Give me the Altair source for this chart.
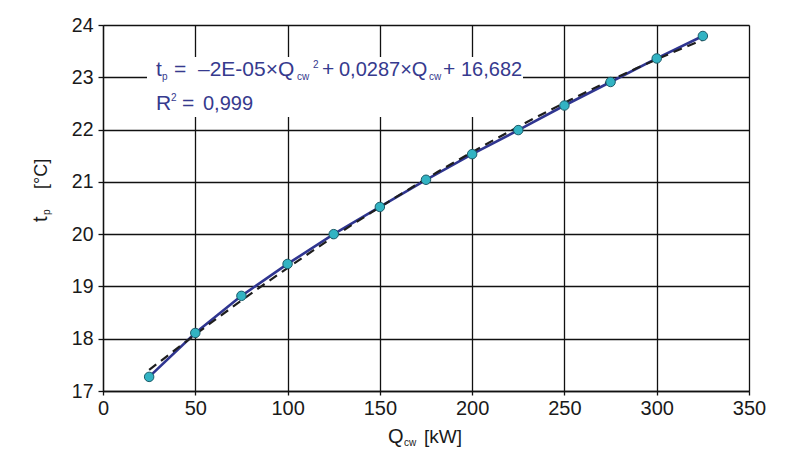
import altair as alt
import pandas as pd

# ---- data ----
q_cw = [25, 50, 75, 100, 125, 150, 175, 200, 225, 250, 275, 300, 325]
t_p = [17.27, 18.11, 18.82, 19.43, 20.00, 20.52, 21.04, 21.53, 21.99, 22.46, 22.91, 23.36, 23.79]
x_ticks = [0, 50, 100, 150, 200, 250, 300, 350]
y_ticks = [17, 18, 19, 20, 21, 22, 23, 24]

# ---- layout ----
L, T, W, H = 103, 25, 646, 366
R = 805 - L - W
B = 453 - T - H

NAVY = "#363a8e"
LINE = "#2f3590"
DOT = "#32b3c3"
DOT_STROKE = "#1c5b68"
FONT = "Liberation Sans"
INK = "#1a1a1a"

df = pd.DataFrame({"Q": q_cw, "t": t_p})
base = alt.Chart(df)

x_enc = alt.X(
    "Q:Q",
    scale=alt.Scale(domain=[0, 350], nice=False, zero=False),
    axis=alt.Axis(values=x_ticks, title=None, grid=True, format="d",
                  labelFont=FONT, labelFontSize=20, labelPadding=3, tickSize=4,
                  labelColor=INK, labelFlush=False, labelBaseline="top",
                  gridColor="#111", gridWidth=1.3, gridOpacity=1,
                  domainColor="#111", domainWidth=1.3, tickColor="#111", tickWidth=1.3),
)
y_enc = alt.Y(
    "t:Q",
    scale=alt.Scale(domain=[17, 24], nice=False, zero=False),
    axis=alt.Axis(values=y_ticks, title=None, grid=True, format="d",
                  labelFont=FONT, labelFontSize=19.5, labelPadding=5, tickSize=5,
                  labelColor=INK, labelFlush=False,
                  gridColor="#111", gridWidth=1.3, gridOpacity=1,
                  domainColor="#111", domainWidth=1.3, tickColor="#111", tickWidth=1.3),
)

one = pd.DataFrame({"a": [0]})

# white box behind the equation
box = alt.Chart(one).mark_rect(color="white").encode(
    x=alt.value(147 - L), x2=alt.value(523 - L),
    y=alt.value(57 - T), y2=alt.value(117 - T),
)

line = base.mark_line(color=LINE, strokeWidth=2.6).encode(x=x_enc, y=y_enc)

trend = base.transform_regression(
    "Q", "t", method="poly", order=2, extent=[25, 325]
).mark_line(color="#1e1e1e", strokeWidth=2.2, strokeDash=[9, 6]).encode(
    x="Q:Q", y="t:Q"
)

pts = base.mark_point(
    filled=True, fill=DOT, stroke=DOT_STROKE, strokeWidth=1, size=90, opacity=1
).encode(x="Q:Q", y="t:Q")


def txt(s, x, y, size, color=NAVY, angle=0):
    props = dict(text=s, align="left", baseline="alphabetic", fontSize=size,
                 font=FONT, color=color)
    if angle:
        props["angle"] = angle
    return alt.Chart(one).mark_text(**props).encode(
        x=alt.value(x - L), y=alt.value(y - T)
    )


texts = [
    # equation line 1
    txt("t", 156, 76, 21),
    txt("p", 162, 80, 10),
    txt("=", 174, 76, 21),
    txt("\u20132E-05\u00d7Q", 198, 76, 21),
    txt("cw", 297, 80, 10),
    txt("2", 313, 68, 10),
    txt("+", 322, 76, 21),
    txt("0,0287\u00d7Q", 339, 76, 20),
    txt("cw", 429, 80, 10),
    txt("+", 443, 76, 21),
    txt("16,682", 461, 76, 20),
    # line 2
    txt("R", 156, 110, 21),
    txt("2", 171, 101, 10),
    txt("=", 182, 110, 21),
    txt("0,999", 203, 110, 20),
    # x title
    txt("Q", 388, 443, 20, color=INK),
    txt("cw", 404, 446, 10, color=INK),
    txt("[kW]", 424, 443, 19, color=INK),
    # y title (rotated)
    txt("t", 47, 222, 20, color=INK, angle=270),
    txt("p", 50, 215, 10, color=INK, angle=270),
    txt("[\u00b0C]", 47, 189, 18, color=INK, angle=270),
]

chart = alt.layer(box, line, trend, pts, *texts).properties(
    width=W, height=H,
    padding={"left": L, "top": T, "right": R, "bottom": B},
    autosize=alt.AutoSizeParams(type="none"),
).configure_view(stroke=None).configure(background="white")

chart.save("out.html", embed_options={"renderer": "svg", "actions": False})
